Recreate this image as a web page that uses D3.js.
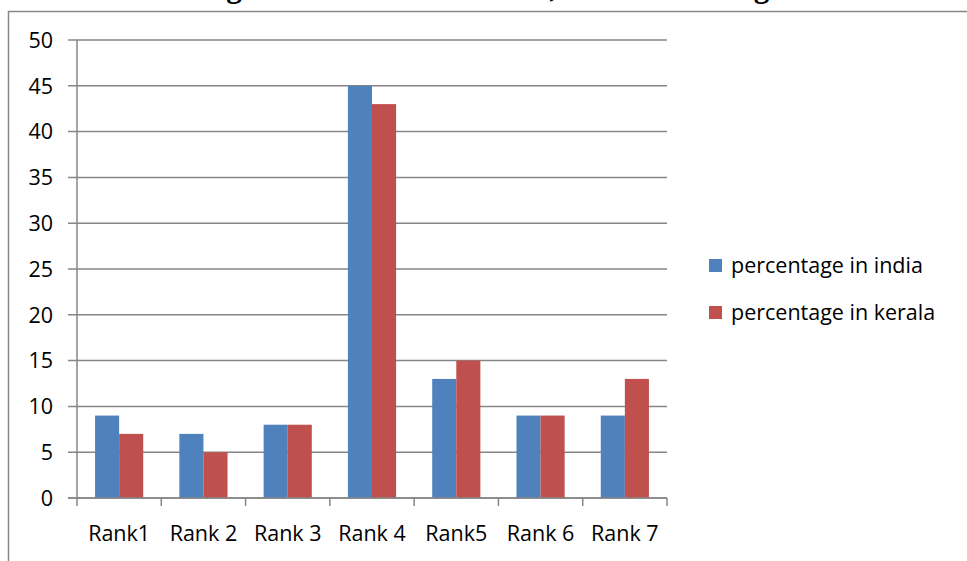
<!DOCTYPE html>
<html><head><meta charset="utf-8">
<script src="https://cdn.jsdelivr.net/npm/d3@7"></script>
<style>body{margin:0;background:#fff}svg{display:block}</style>
</head><body>
<svg id="c" width="967" height="561"></svg>
<script>
const categories = ["Rank1","Rank 2","Rank 3","Rank 4","Rank5","Rank 6","Rank 7"];
const seriesNames = ["percentage in india","percentage in kerala"];
const india = [9,7,8,45,13,9,9];
const kerala = [7,5,8,43,15,9,13];
const yTicks = [0,5,10,15,20,25,30,35,40,45,50];
const colors = ["#4F81BD","#C0504D"];
const titleText = "Figure 3: Rank wise status, overall ranking";

const svg = d3.select("#c");
const font = "'Open Sans', sans-serif";
const fs = 21.5;
const grid = "#868686";

// title (cut off at top, as in the reference)
svg.append("text").attr("x",484).attr("y",-3).attr("text-anchor","middle")
  .attr("font-family","'Liberation Serif', serif").attr("font-weight","bold")
  .attr("font-size",31).attr("fill","#000").text(titleText);

// chart border
svg.append("rect").attr("x",8.5).attr("y",11.5).attr("width",1000).attr("height",600)
  .attr("fill","none").attr("stroke",grid).attr("stroke-width",1.5);

const x0 = d3.scaleBand().domain(categories).range([77,667]).padding(0);
const x1 = d3.scaleBand().domain(seriesNames).range([0,x0.bandwidth()]).paddingInner(0).paddingOuter(0.75);
const y = d3.scaleLinear().domain([0,50]).range([498,40]);

// gridlines
svg.append("g").selectAll("line").data(yTicks).join("line")
  .attr("x1",68).attr("x2",667).attr("y1",d=>y(d)).attr("y2",d=>y(d))
  .attr("stroke",grid).attr("stroke-width",1.5);

// y labels
svg.append("g").selectAll("text").data(yTicks).join("text")
  .attr("x",53).attr("y",d=>y(d)).attr("dy","0.36em").attr("text-anchor","end")
  .attr("font-family",font).attr("font-size",fs).attr("fill","#000").text(d=>d);

// bars
const data = categories.map((c,i)=>({c, vals:[india[i],kerala[i]]}));
const g = svg.append("g");
data.forEach(d=>{
  g.selectAll(null).data(seriesNames.map((s,j)=>({s,v:d.vals[j],j}))).join("rect")
    .attr("x",e=>x0(d.c)+x1(e.s)).attr("width",x1.bandwidth())
    .attr("y",e=>y(e.v)).attr("height",e=>y(0)-y(e.v))
    .attr("fill",e=>colors[e.j]);
});

// axes lines
svg.append("line").attr("x1",77).attr("x2",77).attr("y1",y(50)).attr("y2",y(0))
  .attr("stroke",grid).attr("stroke-width",1.5);
svg.append("line").attr("x1",68).attr("x2",667).attr("y1",y(0)).attr("y2",y(0))
  .attr("stroke",grid).attr("stroke-width",1.5);
const tickXs = categories.map(c=>x0(c)).concat([x0.range()[1]]);
svg.append("g").selectAll("line").data(tickXs).join("line")
  .attr("x1",d=>d).attr("x2",d=>d).attr("y1",y(0)).attr("y2",y(0)+8)
  .attr("stroke",grid).attr("stroke-width",1.5);

// x labels
svg.append("g").selectAll("text").data(categories).join("text")
  .attr("x",d=>x0(d)+x0.bandwidth()/2).attr("y",541).attr("text-anchor","middle")
  .attr("font-family",font).attr("font-size",fs).attr("fill","#000").text(d=>d);

// legend
const lg = svg.append("g");
seriesNames.forEach((s,i)=>{
  lg.append("rect").attr("x",709).attr("y",259+i*47).attr("width",13).attr("height",13).attr("fill",colors[i]);
  lg.append("text").attr("x",731).attr("y",273+i*47).attr("font-family",font).attr("font-size",fs)
    .attr("fill","#000").text(s);
});
</script>
</body></html>
